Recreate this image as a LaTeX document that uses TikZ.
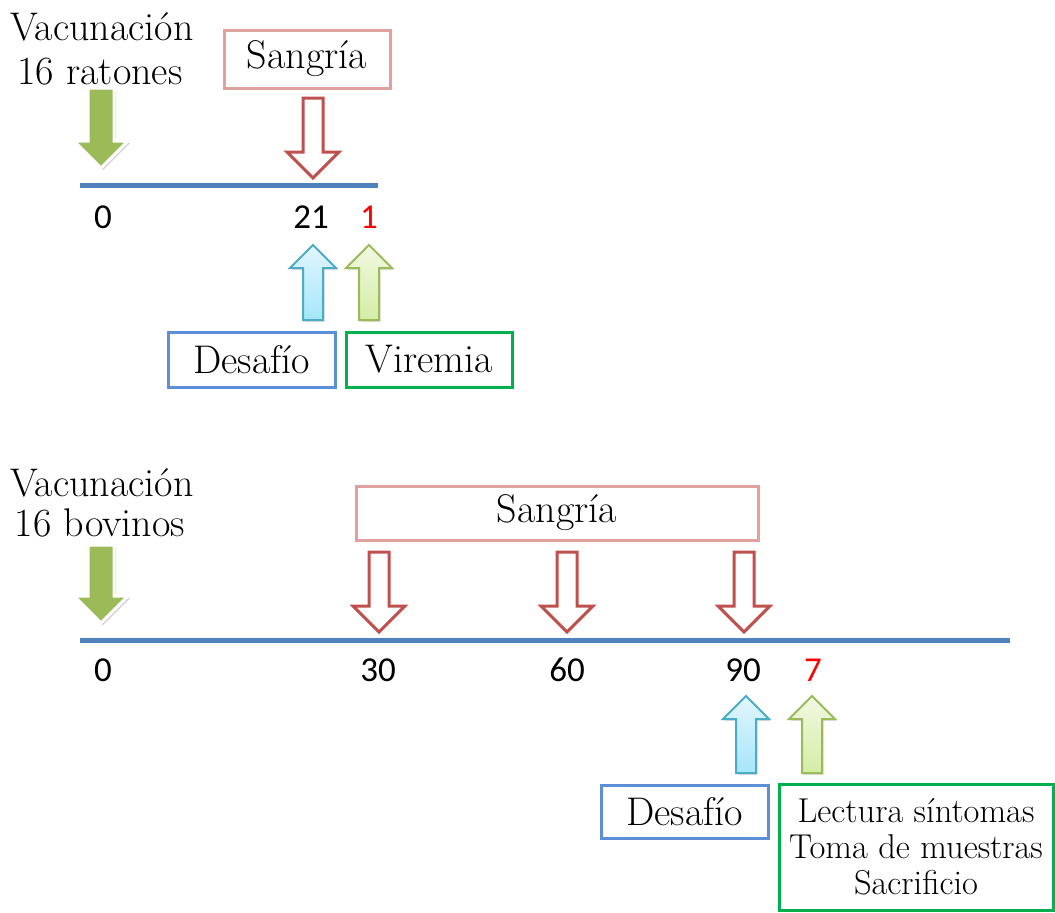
\documentclass[tikz,border=0pt]{standalone}
\usepackage{fontspec}
\newfontfamily\numfont{Carlito}
\usetikzlibrary{shadows}
\definecolor{lineblue}{HTML}{4F81BD}
\definecolor{arrred}{HTML}{C0504D}
\definecolor{sangbox}{HTML}{E0A09E}
\definecolor{desbox}{HTML}{5B8FD6}
\definecolor{virbox}{HTML}{00B050}
\definecolor{vacgreen}{HTML}{9BBB59}
\definecolor{upbluedraw}{HTML}{4BACC6}
\definecolor{upbluetop}{HTML}{E2F6FD}
\definecolor{upbluebot}{HTML}{A6E6FA}
\definecolor{upgreendraw}{HTML}{9BBB59}
\definecolor{upgreentop}{HTML}{F1F8E2}
\definecolor{upgreenbot}{HTML}{D5EDA5}
\newcommand\myDown[6]{% style, x, ytop, ytip, bodyhalf, headhalf; headlen = headhalf
  \draw[#1] ({#2-#5},#3) -- ({#2+#5},#3) -- ({#2+#5},{#4-#6}) -- ({#2+#6},{#4-#6}) -- (#2,#4)
    -- ({#2-#6},{#4-#6}) -- ({#2-#5},{#4-#6}) -- cycle;}
\newcommand\myUp[6]{% style, x, ytip, ybot, bodyhalf, headhalf
  \draw[#1] (#2,#3) -- ({#2+#6},{#3+#6}) -- ({#2+#5},{#3+#6}) -- ({#2+#5},#4) -- ({#2-#5},#4)
    -- ({#2-#5},{#3+#6}) -- ({#2-#6},{#3+#6}) -- cycle;}
\tikzset{
  x=1pt, y=-1pt,
  lbl/.style={font=\fontsize{40}{44}\selectfont, inner sep=0pt},
  num/.style={font=\numfont\fontsize{35}{40}\selectfont, inner sep=0pt},
  boxed/.style={lbl, draw, line width=3pt, minimum width=#1, inner sep=0pt},
  timeline/.style={lineblue, line width=5pt},
  vacarrow/.style={fill=vacgreen, draw=white, line width=3pt, line join=miter,
    drop shadow={opacity=0.35, shadow xshift=2pt, shadow yshift=-2pt}},
  sangarrow/.style={fill=white, draw=arrred, line width=3pt, line join=miter},
  bluearrow/.style={top color=upbluetop, bottom color=upbluebot, draw=upbluedraw, line width=2pt,
    drop shadow={opacity=0.25, shadow xshift=1.5pt, shadow yshift=-2pt}},
  greenarrow/.style={top color=upgreentop, bottom color=upgreenbot, draw=upgreendraw, line width=2pt,
    drop shadow={opacity=0.25, shadow xshift=1.5pt, shadow yshift=-2pt}},
}
\begin{document}
\begin{tikzpicture}
\useasboundingbox[fill=white] (0,0) rectangle (1055,913);
% ---------------- top: ratones ----------------
\node[lbl] (vac1) at (102,27) {Vacunación};
\node[lbl] (rat1) at (100,72) {16 ratones};
\node[boxed=166pt, draw=sangbox, minimum height=58pt] (sang1) at (307,59) {Sangría};
\coordinate (l1a) at (80,185);
\coordinate (l1b) at (378,185);
\draw[timeline] (l1a) -- (l1b);
\myDown{vacarrow}{101}{88}{168}{13}{27}
\myDown{sangarrow}{313}{98}{178}{10}{26}
\node[num] (n1a) at (103,217) {0};
\node[num] (n1b) at (311,217) {21};
\node[num, text=red] (n1c) at (369,217) {1};
\myUp{bluearrow}{313}{245}{320}{10}{23}
\myUp{greenarrow}{369}{245}{320}{10}{23}
\node[boxed=167pt, draw=desbox, minimum height=55pt] (des1) at (251.5,359.5) {Desafío};
\node[boxed=166pt, draw=virbox, minimum height=55pt] (vir1) at (429,359.5) {Viremia};
% ---------------- bottom: bovinos ----------------
\node[lbl] (vac2) at (102,483) {Vacunación};
\node[lbl] (bov2) at (100,523) {16 bovinos};
\node[boxed=402pt, draw=sangbox, minimum height=54pt] (sang2) at (557,513) {Sangría};
\coordinate (l2a) at (80,640);
\coordinate (l2b) at (1010,640);
\draw[timeline] (l2a) -- (l2b);
\myDown{vacarrow}{101}{545}{623}{13}{27}
\myDown{sangarrow}{379}{552}{632}{10}{26}
\myDown{sangarrow}{567}{552}{632}{10}{26}
\myDown{sangarrow}{744}{552}{632}{10}{26}
\node[num] (n2a) at (103,670) {0};
\node[num] (n2b) at (378,670) {30};
\node[num] (n2c) at (567,670) {60};
\node[num] (n2d) at (743,670) {90};
\node[num, text=red] (n2e) at (813,670) {7};
\myUp{bluearrow}{746}{696}{773}{10}{23}
\myUp{greenarrow}{812}{696}{773}{10}{23}
\node[boxed=167pt, draw=desbox, minimum height=53pt] (des2) at (684.5,811.5) {Desafío};
\node[boxed=274pt, draw=virbox, minimum height=126pt, align=center,
      font=\fontsize{34.5}{36}\selectfont] (fin2) at (916,847)
  {Lectura síntomas\\Toma de muestras\\Sacrificio};
\end{tikzpicture}
\end{document}
